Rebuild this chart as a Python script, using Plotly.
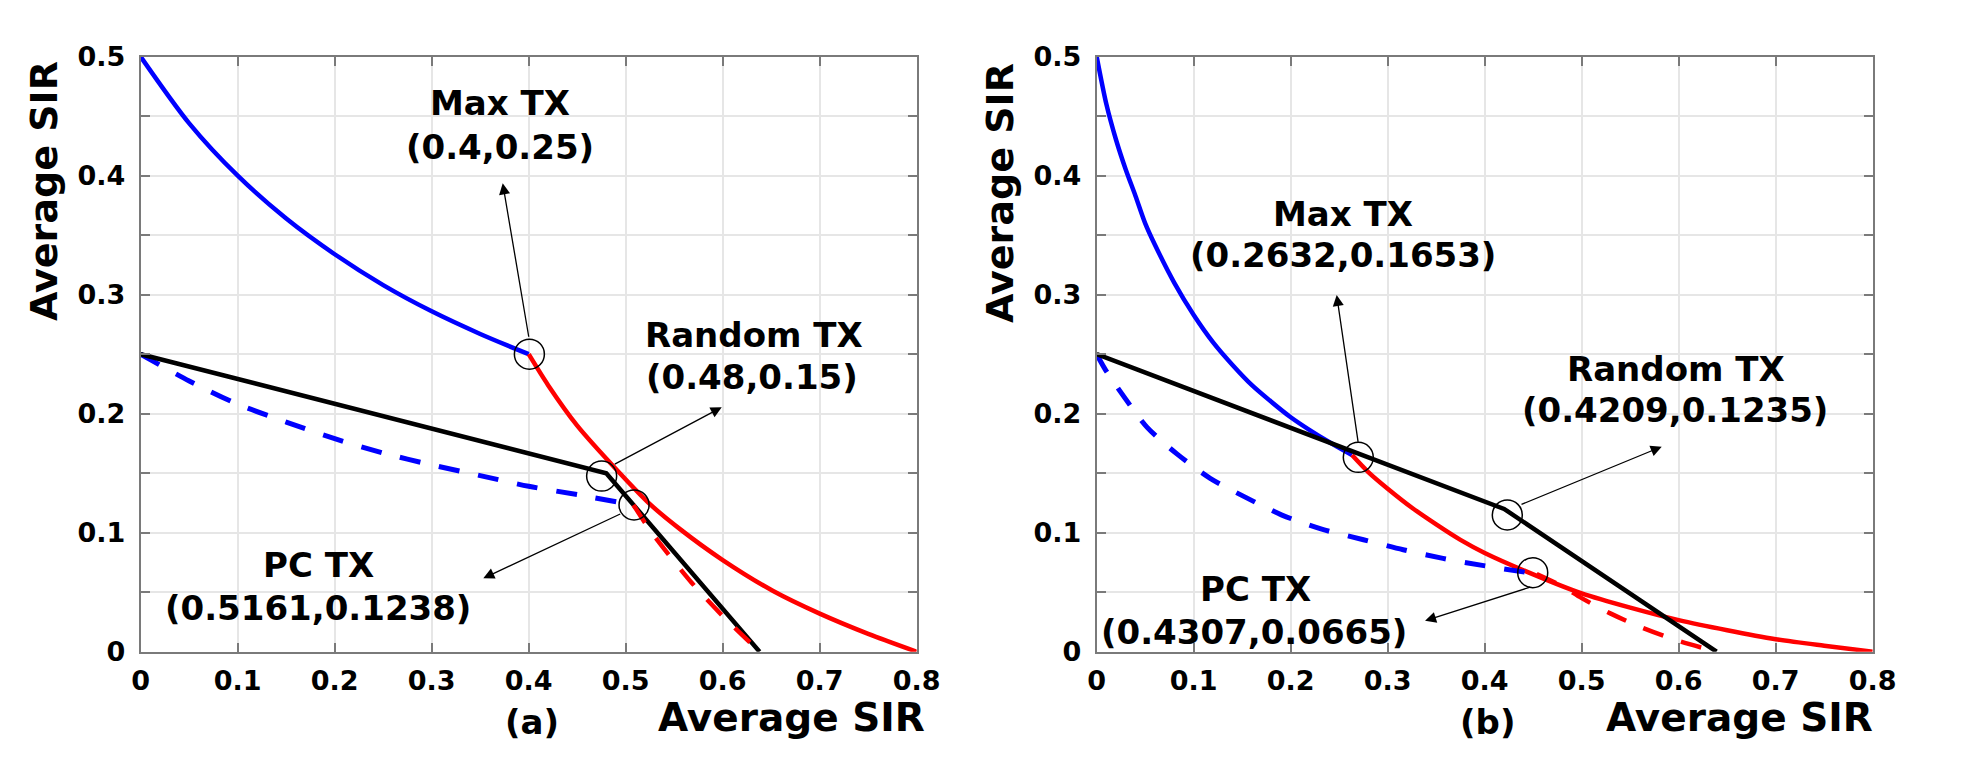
import plotly.graph_objects as go

# ---------------- data: panel (a) ----------------
a_blue_x = [0, 0.05, 0.1, 0.15, 0.2, 0.25, 0.3, 0.35, 0.4]
a_blue_y = [0.5, 0.444, 0.40, 0.364, 0.334, 0.308, 0.286, 0.267, 0.25]
a_red_x = [0.4, 0.42, 0.45, 0.494, 0.525, 0.556, 0.6, 0.652, 0.7, 0.75, 0.8]
a_red_y = [0.25, 0.224, 0.19, 0.15, 0.124, 0.103, 0.077, 0.051, 0.032, 0.015, 0.0]
a_bdash_x = [0, 0.05, 0.1, 0.15, 0.2, 0.25, 0.3, 0.35, 0.4, 0.45, 0.508]
a_bdash_y = [0.25, 0.2275, 0.208, 0.193, 0.179, 0.167, 0.157, 0.148, 0.139, 0.132, 0.1233]
a_rdash_x = [0.508, 0.527, 0.568, 0.60, 0.638]
a_rdash_y = [0.1233, 0.10, 0.058, 0.03, 0.0]
a_black_x = [0, 0.48, 0.638]
a_black_y = [0.25, 0.15, 0.0]
a_circ_x = [0.4007, 0.4752, 0.5086]
a_circ_y = [0.25, 0.1476, 0.1233]

# ---------------- data: panel (b) ----------------
b_blue_x = [0, 0.01, 0.02, 0.03, 0.04, 0.05, 0.06, 0.08, 0.1, 0.12, 0.14, 0.16, 0.18, 0.2, 0.22, 0.24, 0.2632]
b_blue_y = [0.5, 0.46, 0.43, 0.405, 0.383, 0.36, 0.342, 0.31, 0.283, 0.26, 0.241, 0.224, 0.21, 0.197, 0.186, 0.176, 0.1653]
b_red_x = [0.2632, 0.28, 0.3, 0.325, 0.35, 0.375, 0.4, 0.45, 0.5, 0.55, 0.6, 0.65, 0.7, 0.75, 0.8]
b_red_y = [0.1653, 0.151, 0.137, 0.121, 0.107, 0.094, 0.083, 0.065, 0.049, 0.037, 0.0265, 0.018, 0.0105, 0.005, 0.0]
b_bdash_x = [0, 0.0086, 0.0275, 0.052, 0.083, 0.117, 0.1536, 0.191, 0.232, 0.275, 0.316, 0.357, 0.399, 0.4536]
b_bdash_y = [0.25, 0.2375, 0.215, 0.1885, 0.166, 0.1457, 0.1297, 0.1148, 0.103, 0.0941, 0.0857, 0.0784, 0.0723, 0.0653]
b_rdash_x = [0.4536, 0.48, 0.50, 0.53, 0.56, 0.60, 0.639]
b_rdash_y = [0.0653, 0.055, 0.045, 0.032, 0.021, 0.009, 0.0]
b_black_x = [0, 0.42, 0.639]
b_black_y = [0.25, 0.12, 0.0]
b_circ_x = [0.2697, 0.4233, 0.4495]
b_circ_y = [0.1633, 0.1149, 0.0664]

# labels
point_names = ["Max TX", "Random TX", "PC TX"]
a_point_labels = ["(0.4,0.25)", "(0.48,0.15)", "(0.5161,0.1238)"]
b_point_labels = ["(0.2632,0.1653)", "(0.4209,0.1235)", "(0.4307,0.0665)"]
x_tick_vals = [0, 0.1, 0.2, 0.3, 0.4, 0.5, 0.6, 0.7, 0.8]
x_tick_text = ["0", "0.1", "0.2", "0.3", "0.4", "0.5", "0.6", "0.7", "0.8"]
y_tick_vals = [0, 0.05, 0.1, 0.15, 0.2, 0.25, 0.3, 0.35, 0.4, 0.45, 0.5]
y_tick_text = ["0", "", "0.1", "", "0.2", "", "0.3", "", "0.4", "", "0.5"]
axis_title = "Average SIR"
panel_tags = ["(a)", "(b)"]

# ---------------- layout config ----------------
FONT = "DejaVu Sans"
BLUE, RED, BLACK = "#0000FF", "#FF0000", "#000000"
LW = 4.5
DASH = "21px,19px"

# arrows: (head_x, head_y, tail_x, tail_y)
a_arrows = [(0.3732, 0.3936, 0.4003, 0.2634),
            (0.599, 0.2054, 0.4872, 0.1569),
            (0.3532, 0.0617, 0.4959, 0.1163)]
b_arrows = [(0.2474, 0.2998, 0.2697, 0.1751),
            (0.5825, 0.1723, 0.4364, 0.1233),
            (0.3385, 0.026, 0.4484, 0.0546)]
# text positions in data units: (name_x, name_y, label_x, label_y)
a_text_pos = [(0.3704, 0.4607, 0.3704, 0.4237),
              (0.6323, 0.2661, 0.6302, 0.2308),
              (0.1833, 0.0729, 0.1823, 0.0371)]
b_text_pos = [(0.2544, 0.3678, 0.2544, 0.3334),
              (0.5972, 0.2377, 0.5962, 0.2031),
              (0.1632, 0.0526, 0.1622, 0.0168)]

fig = go.Figure()

def add_panel(xa, ya, blue, red, bdash, rdash, black, circ):
    common = dict(mode="lines", xaxis=xa, yaxis=ya, showlegend=False, hoverinfo="skip")
    fig.add_trace(go.Scatter(x=blue[0], y=blue[1], line=dict(color=BLUE, width=LW, shape="spline", smoothing=0.8), **common))
    fig.add_trace(go.Scatter(x=red[0], y=red[1], line=dict(color=RED, width=LW, shape="spline", smoothing=0.8), **common))
    fig.add_trace(go.Scatter(x=bdash[0], y=bdash[1], line=dict(color=BLUE, width=5, dash=DASH, shape="spline", smoothing=0.8), **common))
    fig.add_trace(go.Scatter(x=black[0], y=black[1], line=dict(color=BLACK, width=LW), **common))
    fig.add_trace(go.Scatter(x=rdash[0], y=rdash[1], line=dict(color=RED, width=4.5, dash=DASH, shape="spline", smoothing=0.8), **common))
    fig.add_trace(go.Scatter(x=circ[0], y=circ[1], mode="markers",
                             marker=dict(symbol="circle-open", size=30, color=BLACK, line=dict(width=1.5, color=BLACK)),
                             xaxis=xa, yaxis=ya, showlegend=False, hoverinfo="skip", cliponaxis=False))

add_panel("x", "y", (a_blue_x, a_blue_y), (a_red_x, a_red_y), (a_bdash_x, a_bdash_y),
          (a_rdash_x, a_rdash_y), (a_black_x, a_black_y), (a_circ_x, a_circ_y))
add_panel("x2", "y2", (b_blue_x, b_blue_y), (b_red_x, b_red_y), (b_bdash_x, b_bdash_y),
          (b_rdash_x, b_rdash_y), (b_black_x, b_black_y), (b_circ_x, b_circ_y))

annotations = []
TXT = dict(family=FONT, size=34, color="black", weight="bold")
for xr, yr, arrows, tpos, labels in [("x", "y", a_arrows, a_text_pos, a_point_labels),
                                     ("x2", "y2", b_arrows, b_text_pos, b_point_labels)]:
    for (hx, hy, tx, ty) in arrows:
        annotations.append(dict(x=hx, y=hy, ax=tx, ay=ty, xref=xr, yref=yr, axref=xr, ayref=yr,
                                text="", showarrow=True, arrowhead=2, arrowsize=1.7, arrowwidth=1.3,
                                arrowcolor="black", standoff=0, startstandoff=0))
    for name, lab, (nx, ny, lx, ly) in zip(point_names, labels, tpos):
        annotations.append(dict(x=nx, y=ny, xref=xr, yref=yr, text=name, showarrow=False,
                                font=TXT, xanchor="center", yanchor="middle"))
        annotations.append(dict(x=lx, y=ly, xref=xr, yref=yr, text=lab, showarrow=False,
                                font=TXT, xanchor="center", yanchor="middle"))

# page body has an 8px default margin: the figure is sized/offset to fit the window
OFF = 8
W, H = 1968 - 2 * OFF, 760 - 2 * OFF
def px(x):
    return (x - OFF) / W
def py(y):
    return 1 - (y - OFF) / H

# axis titles & panel tags (paper coordinates)
YTITLE = dict(family=FONT, size=38, color="black", weight="bold")
XTITLE = dict(family=FONT, size=39, color="black", weight="bold")
TAG = dict(family=FONT, size=34, color="black", weight="bold")
annotations += [
    dict(x=px(44), y=py(191), xref="paper", yref="paper", text=axis_title, textangle=-90,
         showarrow=False, font=YTITLE, xanchor="center", yanchor="middle"),
    dict(x=px(1000), y=py(193), xref="paper", yref="paper", text=axis_title, textangle=-90,
         showarrow=False, font=YTITLE, xanchor="center", yanchor="middle"),
    dict(x=px(927), y=py(717), xref="paper", yref="paper", text=axis_title,
         showarrow=False, font=XTITLE, xanchor="right", yanchor="middle"),
    dict(x=px(1875), y=py(717), xref="paper", yref="paper", text=axis_title,
         showarrow=False, font=XTITLE, xanchor="right", yanchor="middle"),
    dict(x=px(532), y=py(722), xref="paper", yref="paper", text=panel_tags[0],
         showarrow=False, font=TAG, xanchor="center", yanchor="middle"),
    dict(x=px(1487), y=py(722), xref="paper", yref="paper", text=panel_tags[1],
         showarrow=False, font=TAG, xanchor="center", yanchor="middle"),
]

TICKFONT = dict(family=FONT, size=27, color="black", weight="bold")
AXCOL = "#7a7a7a"
common_x = dict(range=[0, 0.8], tickmode="array", tickvals=x_tick_vals, ticktext=x_tick_text,
                showgrid=True, gridcolor="#e6e6e6", gridwidth=1.5, zeroline=False,
                showline=True, linecolor=AXCOL, linewidth=2, mirror="ticks",
                ticks="inside", ticklen=9, tickwidth=1.5, tickcolor=AXCOL,
                tickfont=TICKFONT, ticklabelstandoff=4, fixedrange=True, automargin=False)
common_y = dict(range=[0, 0.5], tickmode="array", tickvals=y_tick_vals, ticktext=y_tick_text,
                showgrid=True, gridcolor="#e6e6e6", gridwidth=1.5, zeroline=False,
                showline=True, linecolor=AXCOL, linewidth=2, mirror="ticks",
                ticks="inside", ticklen=9, tickwidth=1.5, tickcolor=AXCOL,
                tickfont=TICKFONT, ticklabelstandoff=8, fixedrange=True, automargin=False)

fig.update_layout(
    width=W, height=H, margin=dict(l=0, r=0, t=0, b=0, autoexpand=False),
    paper_bgcolor="white", plot_bgcolor="white",
    xaxis=dict(domain=[px(140.7), px(916.7)], anchor="y", **common_x),
    yaxis=dict(domain=[py(651.7), py(56.7)], anchor="x", **common_y),
    xaxis2=dict(domain=[px(1096.7), px(1872.7)], anchor="y2", **common_x),
    yaxis2=dict(domain=[py(651.7), py(56.7)], anchor="x2", **common_y),
    annotations=annotations,
    showlegend=False,
)

fig.write_html("out.html")
